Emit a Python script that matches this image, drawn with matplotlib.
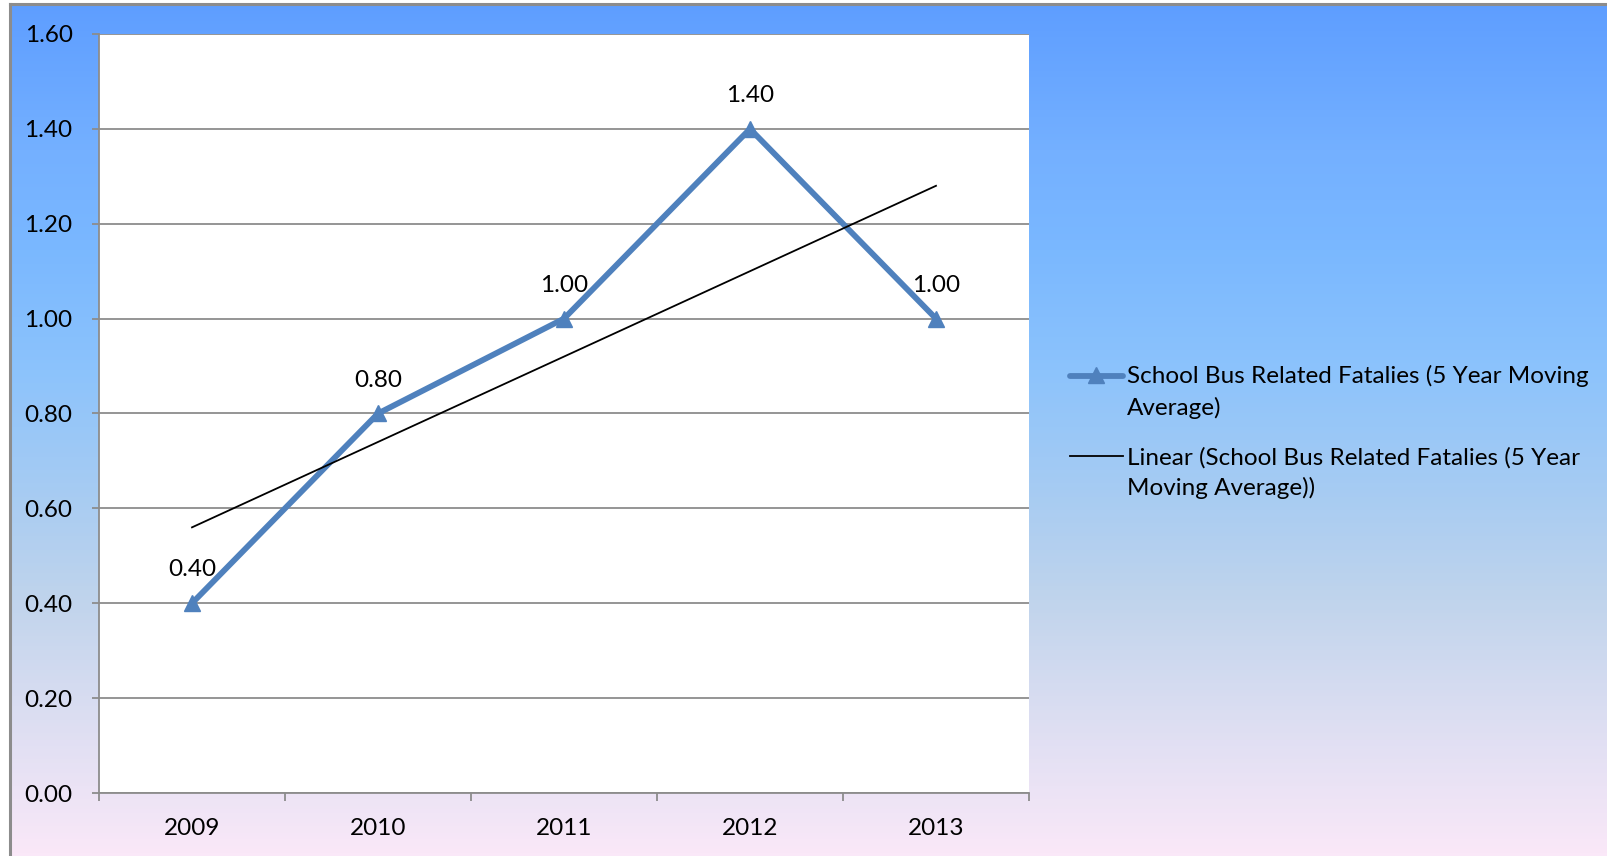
import numpy as np
import matplotlib
matplotlib.use("Agg")
import matplotlib.pyplot as plt
from matplotlib.lines import Line2D
from matplotlib.colors import LinearSegmentedColormap

years = ["2009", "2010", "2011", "2012", "2013"]
fatalities = [0.40, 0.80, 1.00, 1.40, 1.00]
y_ticks = [0.0, 0.2, 0.4, 0.6, 0.8, 1.0, 1.2, 1.4, 1.6]
series_label = "School Bus Related Fatalies (5 Year Moving\nAverage)"
trend_label = "Linear (School Bus Related Fatalies (5 Year\nMoving Average))"

plt.rcParams['font.family'] = ['Lato', 'DejaVu Sans']
W, H = 1608, 856
FS = 17.5
fig = plt.figure(figsize=(W / 100, H / 100), dpi=100)
fig.patch.set_facecolor("white")

# gradient background inside the frame
stops = [(0.0, (94, 158, 255)), (0.17, (116, 176, 255)), (0.29, (122, 184, 255)),
         (0.43, (140, 195, 252)), (0.58, (168, 204, 242)), (0.70, (192, 212, 236)),
         (0.84, (220, 222, 242)), (1.0, (250, 232, 248))]
cmap = LinearSegmentedColormap.from_list("bg", [(p, tuple(c / 255 for c in rgb)) for p, rgb in stops])
bg = fig.add_axes([10 / W, 0, 1 - 10 / W, 1 - 4 / H], zorder=-10)
bg.imshow(np.linspace(0, 1, 256).reshape(-1, 1), aspect="auto", cmap=cmap,
          extent=[0, 1, 0, 1], origin="upper")
bg.set_axis_off()
bg.set_xlim(0, 1)
bg.set_ylim(0, 1)
# frame lines (left and top)
fig.add_artist(Line2D([10 / W, 10 / W], [0, 1 - 4 / H], color="#8c8c8c", lw=2.2))
fig.add_artist(Line2D([10 / W, 1], [1 - 4 / H, 1 - 4 / H], color="#8c8c8c", lw=2.2))

ax = fig.add_axes([99 / W, (H - 793) / H, 930 / W, 759 / H])
ax.set_facecolor("white")
x = np.arange(len(years))

ax.set_xlim(-0.5, len(years) - 0.5)
ax.set_ylim(0, 1.6)
ax.set_yticks(y_ticks)
ax.set_yticklabels([f"{v:.2f}" for v in y_ticks])
ax.yaxis.grid(True, color="#8c8c8c", lw=1.3)
ax.set_axisbelow(True)
ax.set_xticks(x)
ax.set_xticklabels(years)
ax.set_xticks(np.arange(-0.5, len(years)), minor=True)
ax.tick_params(axis="x", which="major", length=0, pad=18, labelsize=FS)
ax.tick_params(axis="x", which="minor", length=6, width=1.3, color="#8c8c8c")
ax.tick_params(axis="y", length=5, width=1.3, color="#8c8c8c", pad=14, labelsize=FS)
for s in ["top", "right"]:
    ax.spines[s].set_visible(False)
for s in ["left", "bottom"]:
    ax.spines[s].set_color("#8c8c8c")
    ax.spines[s].set_linewidth(1.3)

blue = "#4f81bd"
ax.plot(x, fatalities, color=blue, lw=4.2, marker="^", markersize=11, zorder=3)
coef = np.polyfit(x, fatalities, 1)
ax.plot(x, np.polyval(coef, x), color="black", lw=1.3, zorder=4)

for xi, v in zip(x, fatalities):
    ax.annotate(f"{v:.2f}", (xi, v), xytext=(0, 24), textcoords="offset points",
                ha="center", va="center", fontsize=FS)

# legend
fig.add_artist(Line2D([1070 / W, 1123 / W], [1 - 376 / H] * 2, color=blue, lw=4.2,
                      solid_capstyle="round"))
fig.add_artist(Line2D([1096 / W], [1 - 375 / H], color=blue, marker="^", markersize=11))
fig.add_artist(Line2D([1070 / W, 1123 / W], [1 - 456 / H] * 2, color="black", lw=1.3))
fig.text(1127 / W, 1 - 392 / H, series_label, fontsize=FS, va="center", ha="left",
         linespacing=1.5)
fig.text(1127 / W, 1 - 473 / H, trend_label, fontsize=FS, va="center", ha="left",
         linespacing=1.5)

fig.savefig("out.png", dpi=100)
